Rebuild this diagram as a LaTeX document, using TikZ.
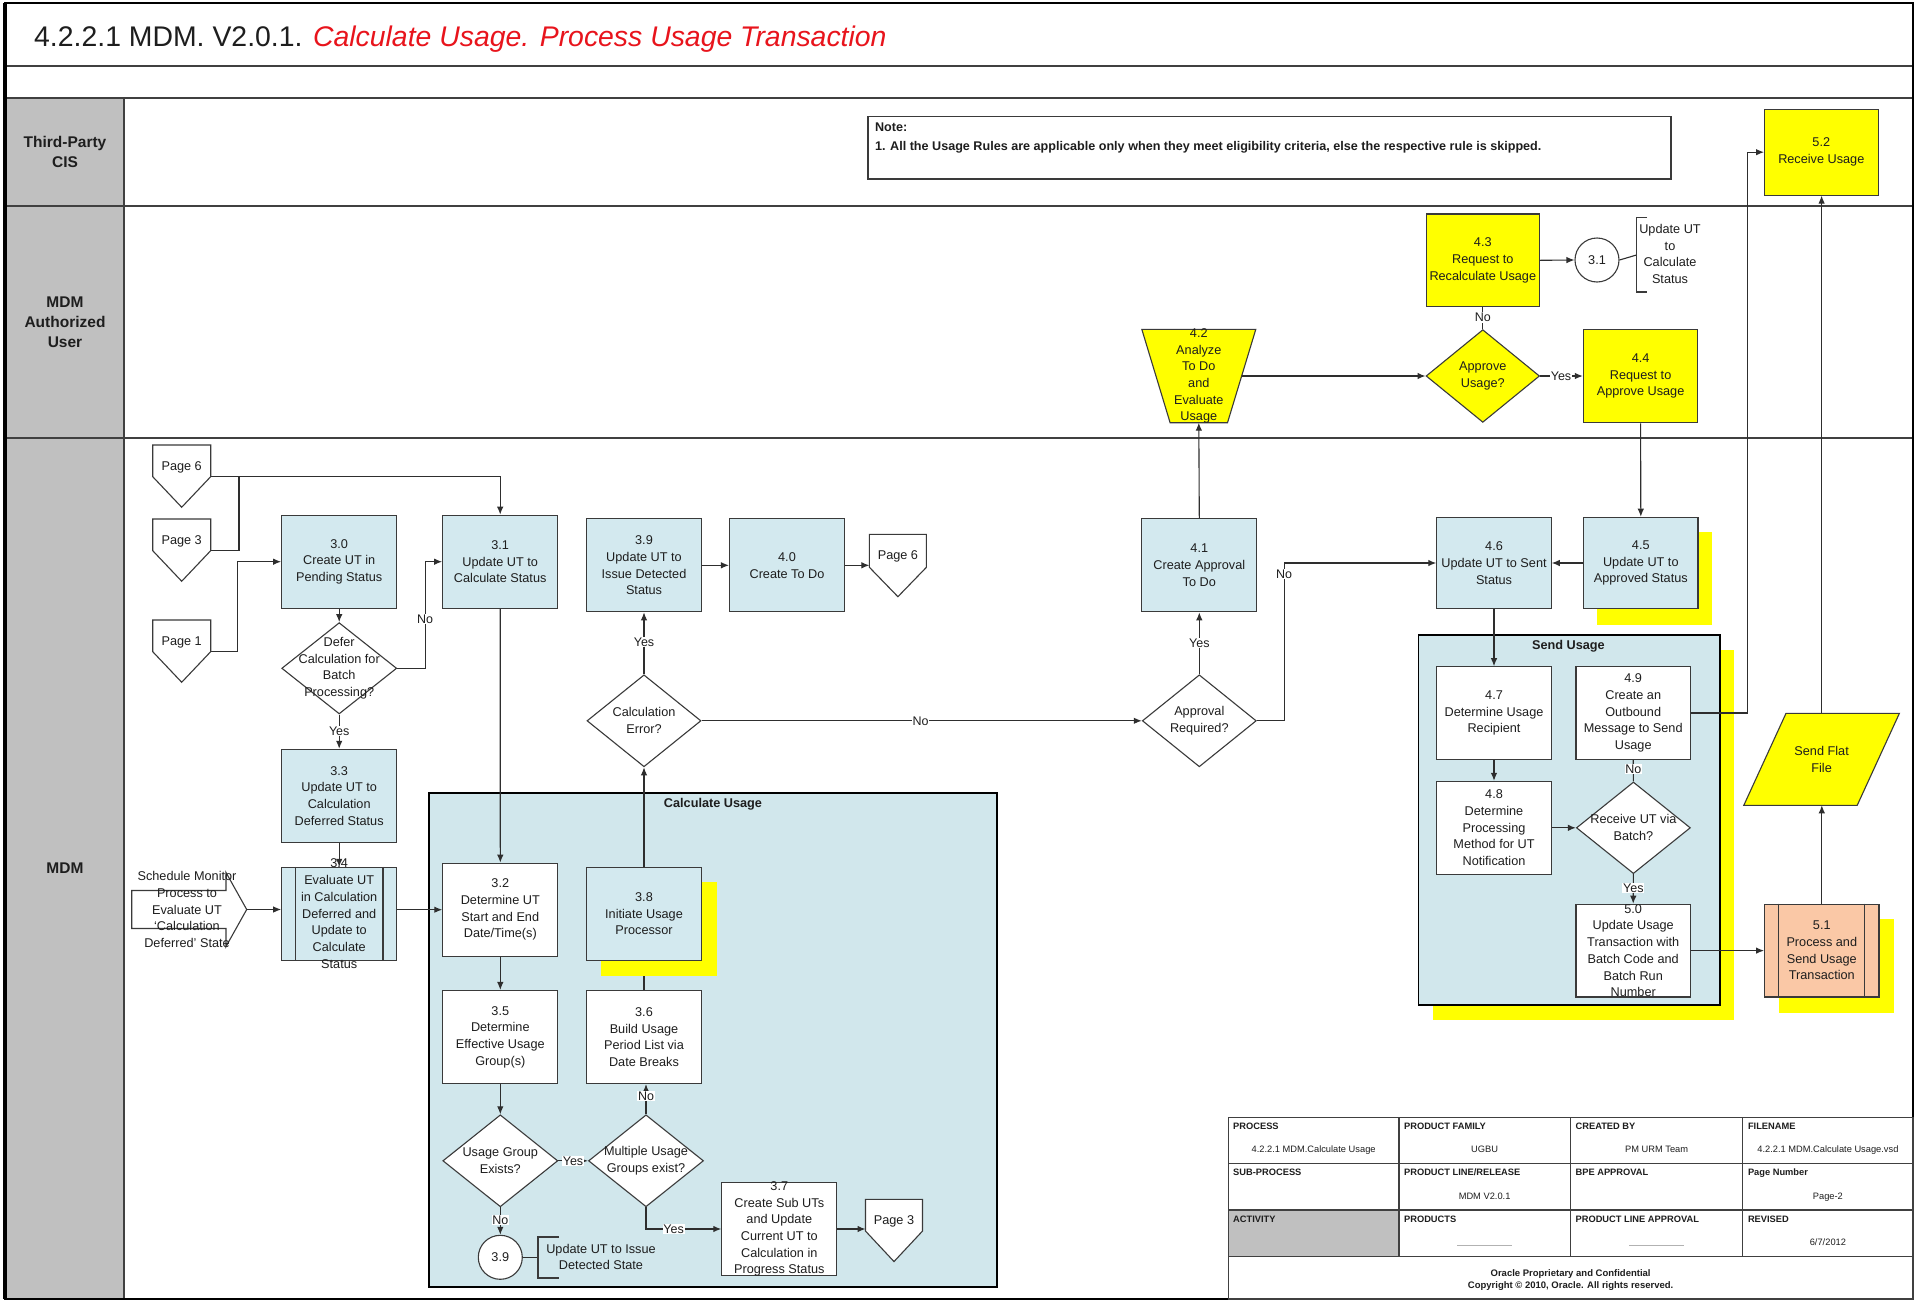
\documentclass[tikz,border=0pt]{standalone}
\usepackage{fontspec}
\setmainfont{Liberation Sans}
\usetikzlibrary{arrows.meta,shapes.geometric,calc}
\definecolor{boxblue}{HTML}{D3E9EF}
\definecolor{grpblue}{HTML}{D1E7EC}
\definecolor{ylw}{HTML}{FFFF00}
\definecolor{peach}{HTML}{FAC8A6}
\definecolor{lanegray}{HTML}{C0C0C0}
\definecolor{lc}{HTML}{2E2E2E}
\definecolor{bc}{HTML}{3A3A3A}
\definecolor{lnc}{HTML}{404040}
\definecolor{tc}{HTML}{1E1E1E}
\definecolor{ttlred}{HTML}{E8141C}
\pgfdeclarelayer{lanes}
\pgfdeclarelayer{conn}
\pgfdeclarelayer{shad}
\pgfsetlayers{lanes,conn,shad,main}
\newcommand\offpg[2]{\draw[shp] (#1.north west) -- (#1.north east) -- (#1.south east) -- ($(#1.south)+(0,#2)$) -- (#1.south west) -- cycle;}
\tikzset{
  bt/.style={font=\fontsize{12.7}{16.7}\selectfont, align=center, text=tc, inner sep=0pt},
  proc/.style={rectangle, draw=bc, line width=1.1pt, fill=boxblue, minimum width=115pt, minimum height=93pt, inner sep=0pt},
  wproc/.style={proc, fill=white},
  yproc/.style={proc, fill=ylw},
  pproc/.style={proc, fill=peach},
  dia/.style={diamond, draw=bc, line width=1.1pt, fill=white, minimum width=115pt, minimum height=92pt, inner sep=0pt},
  ydia/.style={dia, fill=ylw},
  conn/.style={draw=lc, line width=1.1pt},
  arr/.style={conn, -{Latex[length=8pt,width=6.5pt]}},
  lbl/.style={font=\fontsize{12.5}{15}\selectfont, text=tc, fill=white, inner sep=0.8pt},
  hold/.style={rectangle, inner sep=0pt, outer sep=0pt},
  shp/.style={draw=bc, line width=1.1pt, fill=white},
  conc/.style={circle, draw=bc, line width=1.1pt, fill=white, minimum size=44pt, inner sep=0pt},
  lanel/.style={draw=lnc, line width=1.4pt},
  lanet/.style={font=\bfseries\fontsize{15.5}{20}\selectfont, align=center, text=tc},
  grp/.style={draw=black, line width=1.8pt, fill=grpblue},
  grpt/.style={font=\bfseries\fontsize{12.7}{15}\selectfont, text=tc},
  tbl/.style={draw=lnc, line width=1.2pt},
  hdr/.style={font=\bfseries\fontsize{9.3}{11}\selectfont, anchor=base west, inner sep=0pt, text=tc},
  val/.style={font=\fontsize{9.3}{11}\selectfont, anchor=base, inner sep=0pt, text=tc},
  ann/.style={font=\fontsize{12.7}{16.7}\selectfont, align=center, text=tc, inner sep=0pt},
  notet/.style={font=\bfseries\fontsize{12.6}{15}\selectfont, anchor=base west, inner sep=0pt, text=tc},
}
\begin{document}
\begin{tikzpicture}[x=1pt,y=-1pt]
\useasboundingbox (0,0) rectangle (1917,1301);

\begin{pgfonlayer}{lanes}
  \fill[white] (0,0) rectangle (1917,1301);
  \fill[lanegray] (5,98) rectangle (124,1299);
  \draw[lanel] (124,98) -- (124,1299);
  \draw[lanel] (5,66) -- (1913,66);
  \draw[lanel] (5,98) -- (1913,98);
  \draw[lanel] (5,206) -- (1913,206);
  \draw[lanel] (5,438) -- (1913,438);
  \draw[black, line width=2pt] (5,3) rectangle (1913,1299);
  \draw[black, line width=3.5pt] (5,3) -- (5,1299);
  \fill[ylw] (1432.7,650.3) rectangle (1734.2,1019.8);
  \draw[grp] (1418.4,635.3) rectangle (1719.9,1004.8);
  \draw[grp] (428.7,793.3) rectangle (997,1287);
\end{pgfonlayer}

% title and lanes
\node[anchor=base west, font=\fontsize{28.4}{32}\selectfont, text=tc, inner sep=0pt] (title) at (34,46)
  {4.2.2.1 MDM. V2.0.1. \textcolor{ttlred}{\itshape Calculate Usage. Process Usage Transaction}};
\node[lanet] (ln1) at (65,152) {Third-Party\\CIS};
\node[lanet] (ln2) at (65,322) {MDM\\Authorized\\User};
\node[lanet] (ln3) at (65,868.5) {MDM};

% note
\node[hold, draw=bc, line width=1.1pt, minimum width=803pt, minimum height=62.3pt, anchor=north west] (note) at (868,116.7) {};
\node[notet] (note1) at (874.8,131.5) {Note:};
\node[notet] (note2) at (874.8,150) {1. All the Usage Rules are applicable only when they meet eligibility criteria, else the respective rule is skipped.};

% group titles
\node[grpt] (g1t) at (713,804) {Calculate Usage};
\node[grpt] (g2t) at (1568.4,646.7) {Send Usage};

% off-page connectors
\node[hold, minimum width=58pt, minimum height=31.7pt, label={[bt,yshift=-7pt]center:Page 6}] (pg6a) at (181.7,460.8) {};
\node[hold, minimum width=58pt, minimum height=31.7pt, label={[bt,yshift=-7pt]center:Page 3}] (pg3a) at (181.7,534.8) {};
\node[hold, minimum width=58pt, minimum height=31.7pt, label={[bt,yshift=-7pt]center:Page 1}] (pg1) at (181.7,635.8) {};
\node[hold, minimum width=57pt, minimum height=33pt, label={[bt,yshift=-6pt]center:Page 6}] (pg6b) at (897.9,550.8) {};
\node[hold, minimum width=57pt, minimum height=31.7pt, label={[bt,yshift=-6pt]center:Page 3}] (pg3b) at (894,1215.2) {};
\coordinate (j1) at (239,476.7);

% MDM lane processes
\node[proc, label={[bt]center:{3.0\\Create UT in\\Pending Status}}] (p30) at (339.2,561.7) {};
\node[proc, label={[bt]center:{3.1\\Update UT to\\Calculate Status}}] (p31) at (500.2,561.7) {};
\node[dia, minimum height=91.3pt, label={[bt]center:{Defer\\Calculation for\\Batch\\Processing?}}] (d1) at (339.2,668.3) {};
\node[proc, label={[bt]center:{3.3\\Update UT to\\Calculation\\Deferred Status}}] (p33) at (339.2,795.8) {};
\node[proc, minimum height=92.7pt, label={[bt]center:{3.4\\Evaluate UT\\in Calculation\\Deferred and\\Update to\\Calculate\\Status}}] (p34) at (339.2,913.7) {};
\draw[bc, line width=1.1pt] ($(p34.north west)+(14.3,0)$) -- ($(p34.south west)+(14.3,0)$);
\draw[bc, line width=1.1pt] ($(p34.north east)+(-14.3,0)$) -- ($(p34.south east)+(-14.3,0)$);
\node[ann] (sm) at (187,909.5) {Schedule Monitor\\Process to\\Evaluate UT\\‘Calculation\\Deferred’ State};
\coordinate (smtip) at (246.7,909.5);

\node[wproc, label={[bt]center:{3.2\\Determine UT\\Start and End\\Date/Time(s)}}] (p32) at (500.3,909.7) {};
\node[proc, label={[bt]center:{3.8\\Initiate Usage\\Processor}}] (p38) at (644,913.7) {};
\node[wproc, label={[bt]center:{3.5\\Determine\\Effective Usage\\Group(s)}}] (p35) at (500.3,1037) {};
\node[wproc, label={[bt]center:{3.6\\Build Usage\\Period List via\\Date Breaks}}] (p36) at (644,1037) {};
\node[dia, label={[bt]center:{Usage Group\\Exists?}}] (d2) at (500.3,1160.8) {};
\node[dia, label={[bt]center:{Multiple Usage\\Groups exist?}}] (d3) at (646,1160.8) {};
\node[conc, label={[bt]center:3.9}] (c39) at (500.3,1257.3) {};
\node[ann] (a39) at (601,1257) {Update UT to Issue\\Detected State};
\coordinate (b39) at (538,1257.3);
\node[wproc, label={[bt]center:{3.7\\Create Sub UTs\\and Update\\Current UT to\\Calculation in\\Progress Status}}] (p37) at (779.3,1229) {};

\node[dia, minimum width=114pt, label={[bt]center:{Calculation\\Error?}}] (d4) at (644,720.8) {};
\node[proc, label={[bt]center:{3.9\\Update UT to\\Issue Detected\\Status}}] (p39) at (644,565.3) {};
\node[proc, label={[bt]center:{4.0\\Create To Do}}] (p40) at (787,565.3) {};
\node[dia, minimum width=114pt, label={[bt]center:{Approval\\Required?}}] (d5) at (1199.3,720.8) {};
\node[proc, label={[bt]center:{4.1\\Create Approval\\To Do}}] (p41) at (1199.3,565.3) {};

% authorized user lane
\node[hold, minimum width=114pt, minimum height=93.4pt, label={[bt]center:{4.2\\Analyze\\To Do\\and\\Evaluate\\Usage}}] (p42) at (1198.8,376) {};
\node[ydia, minimum width=113.5pt, minimum height=92.7pt, label={[bt]center:{Approve\\Usage?}}] (d6) at (1482.8,376) {};
\node[yproc, minimum width=113.5pt, minimum height=92.7pt, label={[bt]center:{4.3\\Request to\\Recalculate Usage}}] (p43) at (1482.8,260.3) {};
\node[conc, label={[bt]center:3.1}] (c31) at (1597,260) {};
\node[ann] (a31) at (1670,254) {Update UT\\to\\Calculate\\Status};
\coordinate (b31) at (1636.5,255);
\node[yproc, minimum width=114.5pt, minimum height=93.4pt, label={[bt]center:{4.4\\Request to\\Approve Usage}}] (p44) at (1640.6,376) {};
\node[yproc, minimum width=113.5pt, minimum height=85.7pt, label={[bt]center:{5.2\\Receive Usage}}] (p52) at (1821.3,152.2) {};

% right part
\node[proc, minimum width=114.4pt, minimum height=91.5pt, label={[bt]center:{4.6\\Update UT to Sent\\Status}}] (p46) at (1494,563) {};
\node[proc, minimum width=114.4pt, minimum height=91.5pt, label={[bt]center:{4.5\\Update UT to\\Approved Status}}] (p45) at (1640.8,563) {};
\node[wproc, minimum width=114.4pt, minimum height=92.5pt, label={[bt]center:{4.7\\Determine Usage\\Recipient}}] (p47) at (1494,713) {};
\node[wproc, minimum width=114.4pt, minimum height=92.5pt, label={[bt]center:{4.9\\Create an\\Outbound\\Message to Send\\Usage}}] (p49) at (1633.2,713) {};
\node[wproc, minimum width=114.4pt, minimum height=92.9pt, label={[bt]center:{4.8\\Determine\\Processing\\Method for UT\\Notification}}] (p48) at (1494,827.8) {};
\node[dia, minimum width=114pt, minimum height=91.6pt, label={[bt]center:{Receive UT via\\Batch?}}] (d7) at (1633.4,827.8) {};
\node[wproc, minimum width=114.4pt, minimum height=92.7pt, label={[bt]center:{5.0\\Update Usage\\Transaction with\\Batch Code and\\Batch Run\\Number}}] (p50) at (1633.2,950.6) {};
\node[pproc, minimum width=114.4pt, minimum height=92.7pt, label={[bt]center:{5.1\\Process and\\Send Usage\\Transaction}}] (p51) at (1821.8,950.6) {};
\draw[bc, line width=1.1pt] ($(p51.north west)+(14.8,0)$) -- ($(p51.south west)+(14.8,0)$);
\draw[bc, line width=1.1pt] ($(p51.north east)+(-14.8,0)$) -- ($(p51.south east)+(-14.8,0)$);
\node[hold, minimum width=155.6pt, minimum height=92pt, label={[bt]center:{Send Flat\\File}}] (sff) at (1821.6,759.3) {};

% title block
\fill[lanegray] (1228.3,1210) rectangle (1398.9,1256.7);
\draw[tbl] (1228.3,1117.3) rectangle (1913,1299);
\draw[tbl] (1228.3,1163.3) -- (1913,1163.3);
\draw[tbl] (1228.3,1210) -- (1913,1210);
\draw[tbl] (1228.3,1256.7) -- (1913,1256.7);
\draw[tbl] (1398.9,1117.3) -- (1398.9,1256.7);
\draw[tbl] (1570.4,1117.3) -- (1570.4,1256.7);
\draw[tbl] (1742.8,1117.3) -- (1742.8,1256.7);
\node[hdr] (tb1) at (1233,1129.3) {PROCESS};
\node[val] (tb2) at (1313.6,1152.3) {4.2.2.1 MDM.Calculate Usage};
\node[hdr] (tb3) at (1403.9,1129.3) {PRODUCT FAMILY};
\node[val] (tb4) at (1484.6,1152.3) {UGBU};
\node[hdr] (tb5) at (1575.4,1129.3) {CREATED BY};
\node[val] (tb6) at (1656.6,1152.3) {PM URM Team};
\node[hdr] (tb7) at (1747.8,1129.3) {FILENAME};
\node[val] (tb8) at (1827.9,1152.3) {4.2.2.1 MDM.Calculate Usage.vsd};
\node[hdr] (tb9) at (1233,1175.3) {SUB-PROCESS};
\node[hdr] (tb10) at (1403.9,1175.3) {PRODUCT LINE/RELEASE};
\node[val] (tb11) at (1484.6,1199) {MDM V2.0.1};
\node[hdr] (tb12) at (1575.4,1175.3) {BPE APPROVAL};
\node[hdr] (tb13) at (1747.8,1175.3) {Page Number};
\node[val] (tb14) at (1827.9,1199) {Page-2};
\node[hdr] (tb15) at (1233,1222) {ACTIVITY};
\node[hdr] (tb16) at (1403.9,1222) {PRODUCTS};
\node[hdr] (tb17) at (1575.4,1222) {PRODUCT LINE APPROVAL};
\node[hdr] (tb18) at (1747.8,1222) {REVISED};
\node[val] (tb19) at (1827.9,1245) {6/7/2012};
\draw[gray!60, line width=0.8pt] (1457,1245.7) -- (1512,1245.7);
\draw[gray!60, line width=0.8pt] (1629,1245.7) -- (1684,1245.7);
\node[val, font=\bfseries\fontsize{9.5}{11}\selectfont] (tb20) at (1570.6,1276.6) {Oracle Proprietary and Confidential};
\node[val, font=\bfseries\fontsize{9.5}{11}\selectfont] (tb21) at (1570.6,1288.3) {Copyright \textcopyright{} 2010, Oracle. All rights reserved.};

% shapes and shadows
\begin{pgfonlayer}{shad}
  \offpg{pg6a}{30.6}
  \offpg{pg3a}{30.6}
  \offpg{pg1}{30.6}
  \offpg{pg6b}{29.4}
  \offpg{pg3b}{30.5}
  \fill[ylw] ($(p38.north west)+(15,15)$) rectangle ($(p38.south east)+(15,15)$);
  \fill[ylw] ($(p45.north west)+(13.5,15.5)$) rectangle ($(p45.south east)+(13.5,15.5)$);
  \fill[ylw] ($(p51.north west)+(14.8,15.3)$) rectangle ($(p51.south east)+(14.8,15.3)$);
  \draw[shp, fill=ylw] (p42.north west) -- (p42.north east) -- ($(p42.south east)+(-28.3,0)$) -- ($(p42.south west)+(28.3,0)$) -- cycle;
  \draw[shp, fill=ylw] ($(sff.north west)+(42.2,0)$) -- (sff.north east) -- ($(sff.south east)+(-42.2,0)$) -- (sff.south west) -- cycle;
  \draw[bc, line width=1.1pt] (131.7,890.5) -- (226,890.5) -- (226,872.5) -- (smtip) -- (226,946.5) -- (226,928.5) -- (131.7,928.5) -- cycle;
  \draw[bc, line width=1.1pt] (559,1237) -- (538,1237) -- (538,1278) -- (559,1278);
  \draw[bc, line width=1.1pt] (1647,217.7) -- (1636.5,217.7) -- (1636.5,292) -- (1647,292);
\end{pgfonlayer}

% connectors
\begin{pgfonlayer}{conn}
  \draw[arr] (pg6a.south east) -| (p31.north);
  \draw[conn] (pg3a.south east) -| (j1);
  \draw[arr] (pg1.south east) -- ++(26.6,0) |- (p30.west);
  \draw[arr] (p30.south) -- (d1.north);
  \draw[arr] (d1.east) -- ++(28.3,0) |- (p31.west);
  \draw[arr] (d1.south) -- (p33.north);
  \draw[arr] (p33.south) -- (p34.north);
  \draw[arr] (smtip) -- (smtip -| p34.west);
  \draw[arr] (p32.west -| p34.east) -- (p32.west);
  \draw[arr] (p31.south) -- (p32.north);
  \draw[arr] (p32.south) -- (p35.north);
  \draw[arr] (p35.south) -- (d2.north);
  \draw[arr] (d2.east) -- (d3.west);
  \draw[arr] (d2.south) -- (c39.north);
  \draw[conn] (c39.east) -- (b39);
  \draw[arr] (d3.north) -- (d3.north |- p36.south);
  \draw[arr] (d3.south) |- (p37.west);
  \draw[arr] (p37.east) -- (p37.east -| pg3b.west);
  \draw[conn] (p36.north) -- (p36.north |- p38.south);
  \draw[arr] (p38.north) -- (d4.south);
  \draw[arr] (d4.north) -- (p39.south);
  \draw[arr] (p39.east) -- (p40.west);
  \draw[arr] (p40.east) -- (p40.east -| pg6b.west);
  \draw[arr] (d4.east) -- (d5.west);
  \draw[arr] (d5.north) -- (p41.south);
  \draw[arr] (d5.east) -- ++(28,0) |- (p46.west);
  \draw[arr] (p41.north) -- (p42.south);
  \draw[arr] ($(p42.east)+(-14.1,0)$) -- (d6.west);
  \draw[conn] (d6.north) -- (p43.south);
  \draw[arr] (d6.east) -- (p44.west);
  \draw[arr] (p43.east) -- (c31.west);
  \draw[conn] (c31.east) -- (b31);
  \draw[arr] (p44.south) -- (p45.north);
  \draw[arr] (p45.west) -- (p46.east);
  \draw[arr] (p46.south) -- (p47.north);
  \draw[arr] (p47.south) -- (p48.north);
  \draw[arr] (p48.east) -- (d7.west);
  \draw[conn] (d7.north) -- (p49.south);
  \draw[arr] (d7.south) -- (p50.north);
  \draw[arr] (p50.east) -- (p51.west);
  \draw[arr] (p51.north) -- (p51.north |- sff.south);
  \draw[arr] (sff.north) -- (sff.north |- p52.south);
  \draw[arr] (p49.east) -- ++(56.1,0) |- (p52.west);
  \node[lbl] (l1) at (425,619) {No};
  \node[lbl] (l2) at (339.2,731) {Yes};
  \node[lbl] (l3) at (573,1160.8) {Yes};
  \node[lbl] (l4) at (500.3,1220) {No};
  \node[lbl] (l5) at (646,1096) {No};
  \node[lbl] (l6) at (673.6,1229) {Yes};
  \node[lbl] (l7) at (644,642.3) {Yes};
  \node[lbl] (l8) at (920.5,720.8) {No};
  \node[lbl] (l9) at (1199.3,643) {Yes};
  \node[lbl] (l10) at (1284,574) {No};
  \node[lbl] (l11) at (1482.8,317.5) {No};
  \node[lbl] (l12) at (1561,376) {Yes};
  \node[lbl] (l13) at (1633.3,769) {No};
  \node[lbl] (l14) at (1633.3,888) {Yes};
\end{pgfonlayer}
\end{tikzpicture}
\end{document}
